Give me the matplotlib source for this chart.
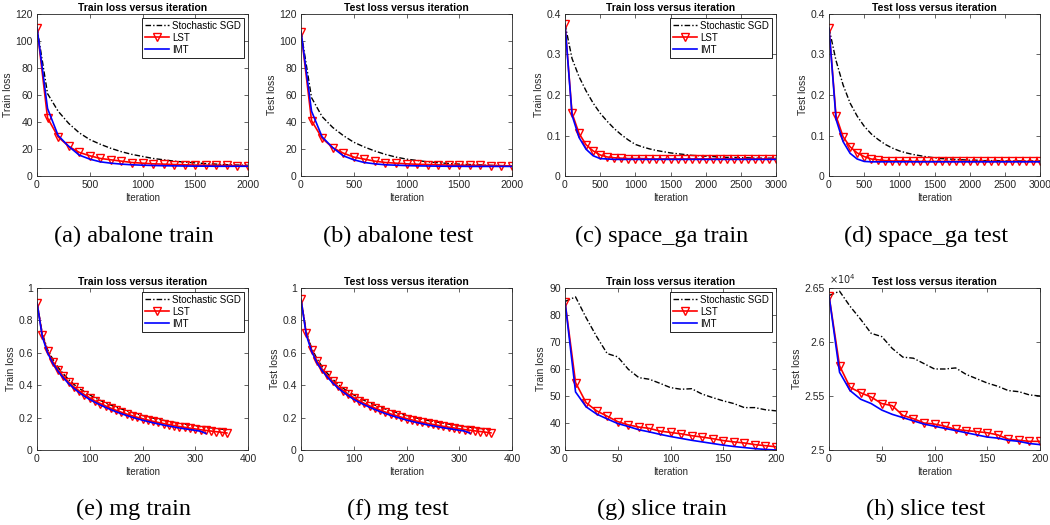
import numpy as np
import matplotlib
matplotlib.use('Agg')
import matplotlib.pyplot as plt
from matplotlib.ticker import FuncFormatter

plt.rcParams['font.family'] = ['Liberation Sans', 'DejaVu Sans']

# ---- data ----
# (a) abalone train, every 100 iterations
ab_x = list(range(0, 2001, 100))
ab_tr_sgd = [110, 61, 48, 39, 32, 27, 23.5, 20.5, 18, 16, 14.5, 13, 12, 11, 10.3, 9.7, 9.2, 8.8, 8.4, 8.1, 7.9]
ab_tr_lst = [110, 43, 29, 22, 17.5, 15, 13, 12, 11, 10, 9.5, 9, 8.8, 8.5, 8.3, 8.1, 8, 7.9, 7.8, 7.7, 7.6]
ab_tr_imt = [110, 50, 30, 22, 15.5, 12.5, 10.5, 9.5, 8.8, 8.3, 8, 7.8, 7.6, 7.5, 7.4, 7.3, 7.3, 7.2, 7.2, 7.2, 7.2]
# (b) abalone test
ab_te_sgd = [107, 58, 44, 36, 30, 25, 21.5, 18.5, 16, 14, 12.5, 11.5, 10.5, 9.8, 9.3, 8.8, 8.5, 8.2, 7.9, 7.7, 7.5]
ab_te_lst = [107, 41, 28, 21, 17, 14, 12.5, 11, 10, 9.5, 9, 8.7, 8.5, 8.3, 8.1, 8, 7.9, 7.8, 7.7, 7.6, 7.5]
ab_te_imt = [107, 48, 29, 21, 15, 12, 10, 9, 8.3, 8, 7.7, 7.5, 7.4, 7.3, 7.2, 7.2, 7.1, 7.1, 7.1, 7.1, 7.1]

# (c) space_ga train, every 100 iterations
sp_x = list(range(0, 3001, 100))
sp_tr_sgd = [0.375, 0.29, 0.245, 0.21, 0.18, 0.155, 0.135, 0.117, 0.102, 0.089, 0.078, 0.072, 0.067, 0.063, 0.06,
             0.057, 0.055, 0.053, 0.051, 0.05, 0.049, 0.048, 0.047, 0.046, 0.046, 0.045, 0.045, 0.044, 0.044, 0.044, 0.044]
sp_tr_lst = [0.375, 0.155, 0.105, 0.077, 0.062, 0.052, 0.047, 0.045, 0.044, 0.043, 0.043, 0.043, 0.042, 0.042, 0.042,
             0.042, 0.042, 0.042, 0.042, 0.042, 0.042, 0.042, 0.042, 0.042, 0.042, 0.042, 0.042, 0.042, 0.042, 0.042, 0.042]
sp_tr_imt = [0.375, 0.15, 0.095, 0.066, 0.05, 0.043, 0.042, 0.041, 0.041, 0.041, 0.041, 0.041, 0.041, 0.041, 0.041,
             0.041, 0.041, 0.041, 0.041, 0.041, 0.041, 0.041, 0.041, 0.041, 0.041, 0.041, 0.041, 0.041, 0.041, 0.041, 0.041]
# (d) space_ga test
sp_te_sgd = [0.365, 0.285, 0.225, 0.18, 0.148, 0.123, 0.104, 0.09, 0.078, 0.069, 0.062, 0.057, 0.053, 0.05, 0.047,
             0.045, 0.043, 0.042, 0.041, 0.04, 0.039, 0.039, 0.038, 0.038, 0.038, 0.037, 0.037, 0.037, 0.037, 0.037, 0.037]
sp_te_lst = [0.365, 0.148, 0.097, 0.072, 0.057, 0.048, 0.042, 0.04, 0.038, 0.037, 0.037, 0.037, 0.036, 0.036, 0.036,
             0.036, 0.036, 0.036, 0.036, 0.036, 0.036, 0.036, 0.036, 0.036, 0.036, 0.036, 0.036, 0.036, 0.036, 0.036, 0.036]
sp_te_imt = [0.365, 0.14, 0.085, 0.056, 0.042, 0.036, 0.035, 0.035, 0.035, 0.035, 0.035, 0.035, 0.035, 0.035, 0.035,
             0.035, 0.035, 0.035, 0.035, 0.035, 0.035, 0.035, 0.035, 0.035, 0.035, 0.035, 0.035, 0.035, 0.035, 0.035, 0.035]

# (e) mg train, every 10 iterations (IMT stops at 320)
mg_x = list(range(0, 361, 10))
mg_x_imt = list(range(0, 321, 10))
mg_tr_sgd = [0.91, 0.72, 0.62, 0.56, 0.51, 0.47, 0.435, 0.405, 0.38, 0.36, 0.34, 0.322, 0.306, 0.291, 0.277, 0.265,
             0.253, 0.242, 0.232, 0.222, 0.213, 0.205, 0.197, 0.19, 0.183, 0.177, 0.171, 0.165, 0.16, 0.155, 0.15,
             0.145, 0.141, 0.137, 0.133, 0.129, 0.125]
mg_tr_lst = [0.91, 0.71, 0.61, 0.545, 0.495, 0.455, 0.42, 0.39, 0.365, 0.342, 0.322, 0.303, 0.287, 0.272, 0.258, 0.245,
             0.233, 0.222, 0.212, 0.202, 0.193, 0.185, 0.177, 0.17, 0.163, 0.157, 0.151, 0.145, 0.14, 0.135, 0.13,
             0.125, 0.121, 0.117, 0.113, 0.109, 0.105]
mg_tr_imt = [0.91, 0.70, 0.60, 0.535, 0.485, 0.445, 0.41, 0.38, 0.355, 0.332, 0.312, 0.294, 0.278, 0.263, 0.249, 0.236,
             0.224, 0.213, 0.203, 0.193, 0.184, 0.176, 0.168, 0.161, 0.154, 0.148, 0.142, 0.136, 0.131, 0.126, 0.121,
             0.116, 0.102]
# (f) mg test
mg_te_sgd = [0.93, 0.73, 0.63, 0.565, 0.515, 0.473, 0.437, 0.407, 0.381, 0.36, 0.34, 0.322, 0.306, 0.291, 0.277, 0.265,
             0.253, 0.242, 0.232, 0.222, 0.213, 0.205, 0.197, 0.19, 0.183, 0.177, 0.171, 0.165, 0.16, 0.155, 0.15,
             0.145, 0.141, 0.137, 0.133, 0.129, 0.125]
mg_te_lst = [0.93, 0.72, 0.62, 0.55, 0.5, 0.46, 0.424, 0.393, 0.367, 0.344, 0.323, 0.304, 0.288, 0.273, 0.259, 0.246,
             0.234, 0.223, 0.213, 0.203, 0.194, 0.186, 0.178, 0.171, 0.164, 0.158, 0.152, 0.146, 0.141, 0.136, 0.131,
             0.126, 0.122, 0.118, 0.114, 0.11, 0.106]
mg_te_imt = [0.93, 0.71, 0.61, 0.54, 0.49, 0.45, 0.414, 0.383, 0.357, 0.334, 0.313, 0.295, 0.279, 0.264, 0.25, 0.237,
             0.225, 0.214, 0.204, 0.194, 0.185, 0.177, 0.169, 0.162, 0.155, 0.149, 0.143, 0.137, 0.132, 0.127, 0.122,
             0.117, 0.104]

# (g) slice train, every 10 iterations
sl_x = list(range(0, 201, 10))
sl_tr_sgd = [85, 86.7, 79, 72, 65.7, 64.5, 59.9, 56.8, 56.2, 54.7, 53.1, 52.5, 52.7, 50.7, 49.4, 48.2, 47.2, 45.7, 45.7, 44.9, 44.5]
sl_tr_lst = [85, 55, 47.5, 44.5, 42.5, 40.5, 39.3, 38.5, 38, 37, 36.5, 36, 35.3, 34.8, 34.2, 33.5, 33, 32.6, 32, 31.6, 31.2]
sl_tr_imt = [85, 51.5, 46, 43.3, 41.5, 39.8, 38.7, 37.5, 36.7, 35.8, 35, 34.3, 33.6, 33, 32.4, 31.8, 31.3, 30.9, 30.5, 30.2, 30]
# (h) slice test
sl_te_sgd = [26430, 26470, 26330, 26210, 26080, 26050, 25940, 25860, 25850, 25800, 25750, 25750, 25760, 25700, 25660,
             25620, 25590, 25550, 25540, 25510, 25500]
sl_te_lst = [26430, 25780, 25580, 25530, 25490, 25430, 25410, 25320, 25290, 25250, 25240, 25220, 25190, 25180, 25170,
             25160, 25140, 25100, 25090, 25080, 25080]
sl_te_imt = [26430, 25720, 25550, 25470, 25430, 25370, 25330, 25300, 25270, 25240, 25220, 25200, 25180, 25160, 25140,
             25120, 25110, 25090, 25080, 25060, 25050]

captions = ['(a) abalone train', '(b) abalone test', '(c) space_ga train', '(d) space_ga test',
            '(e) mg train', '(f) mg test', '(g) slice train', '(h) slice test']

panels = [
    (ab_x, ab_x, ab_tr_sgd, ab_tr_lst, ab_tr_imt, 'Train', (0, 2000, 500), (0, 120, 20)),
    (ab_x, ab_x, ab_te_sgd, ab_te_lst, ab_te_imt, 'Test', (0, 2000, 500), (0, 120, 20)),
    (sp_x, sp_x, sp_tr_sgd, sp_tr_lst, sp_tr_imt, 'Train', (0, 3000, 500), (0, 0.4, 0.1)),
    (sp_x, sp_x, sp_te_sgd, sp_te_lst, sp_te_imt, 'Test', (0, 3000, 500), (0, 0.4, 0.1)),
    (mg_x, mg_x_imt, mg_tr_sgd, mg_tr_lst, mg_tr_imt, 'Train', (0, 400, 100), (0, 1, 0.2)),
    (mg_x, mg_x_imt, mg_te_sgd, mg_te_lst, mg_te_imt, 'Test', (0, 400, 100), (0, 1, 0.2)),
    (sl_x, sl_x, sl_tr_sgd, sl_tr_lst, sl_tr_imt, 'Train', (0, 200, 50), (30, 90, 10)),
    (sl_x, sl_x, sl_te_sgd, sl_te_lst, sl_te_imt, 'Test', (0, 200, 50), (25000, 26500, 500)),
]

W, H = 1050, 525
col_left = [37, 301, 565, 829]
row_top = [14, 288]
ax_w, ax_h = 211, 162
cap_dx = 97          # caption centre relative to the axes' left edge
cap_y = [236, 509]
gray = '#262626'

fig = plt.figure(figsize=(10.5, 5.25), dpi=100)

for i, (x, x_imt, sgd, lst, imt, kind, xt, yt) in enumerate(panels):
    r, c = divmod(i, 4)
    ax = fig.add_axes([col_left[c] / W, 1 - (row_top[r] + ax_h) / H, ax_w / W, ax_h / H])

    ax.plot(x, sgd, color='black', lw=1.0, ls=(0, (4, 1.5, 1, 1.5)), label='Stochastic SGD')
    ax.plot(x, lst, color='red', lw=1.2, marker='v', ms=6, mfc='none', mew=1.0, label='LST')
    ax.plot(x_imt, imt, color='blue', lw=1.2, label='IMT')

    ax.set_xlim(xt[0], xt[1])
    ax.set_ylim(yt[0], yt[1])
    ax.set_xticks(np.arange(xt[0], xt[1] + xt[2] / 2, xt[2]))
    ax.set_yticks(np.arange(yt[0], yt[1] + yt[2] / 2, yt[2]))
    if i == 7:
        ax.yaxis.set_major_formatter(FuncFormatter(lambda v, p: '%g' % round(v / 1e4, 3)))
        ax.text(0.0, 1.01, r'$\times10^4$', transform=ax.transAxes, fontsize=7, color=gray,
                ha='left', va='bottom')
    else:
        ax.yaxis.set_major_formatter(FuncFormatter(lambda v, p: '%g' % round(v, 6)))

    ax.tick_params(direction='in', top=True, right=True, labelsize=7.5, colors=gray,
                   length=3, width=0.5, pad=3)
    for s in ax.spines.values():
        s.set_color(gray)
        s.set_linewidth(0.6)

    ax.set_title(kind + ' loss versus iteration', fontsize=7.5, fontweight='bold', pad=2)
    ax.set_xlabel('Iteration', fontsize=7, color=gray, labelpad=2)
    ax.set_ylabel(kind + ' loss', fontsize=7.5, color=gray, labelpad=2)

    if c % 2 == 0:
        leg = ax.legend(loc='upper right', fontsize=7, fancybox=False, framealpha=1,
                        edgecolor='black', borderaxespad=0.4, handlelength=2.5,
                        borderpad=0.3, labelspacing=0.2, handletextpad=0.3)
        leg.get_frame().set_linewidth(0.6)

    fig.text((col_left[c] + cap_dx) / W, 1 - cap_y[r] / H, captions[i], ha='center', va='center',
             fontsize=17.5, family='Liberation Serif')

fig.savefig('out.png', dpi=100)
